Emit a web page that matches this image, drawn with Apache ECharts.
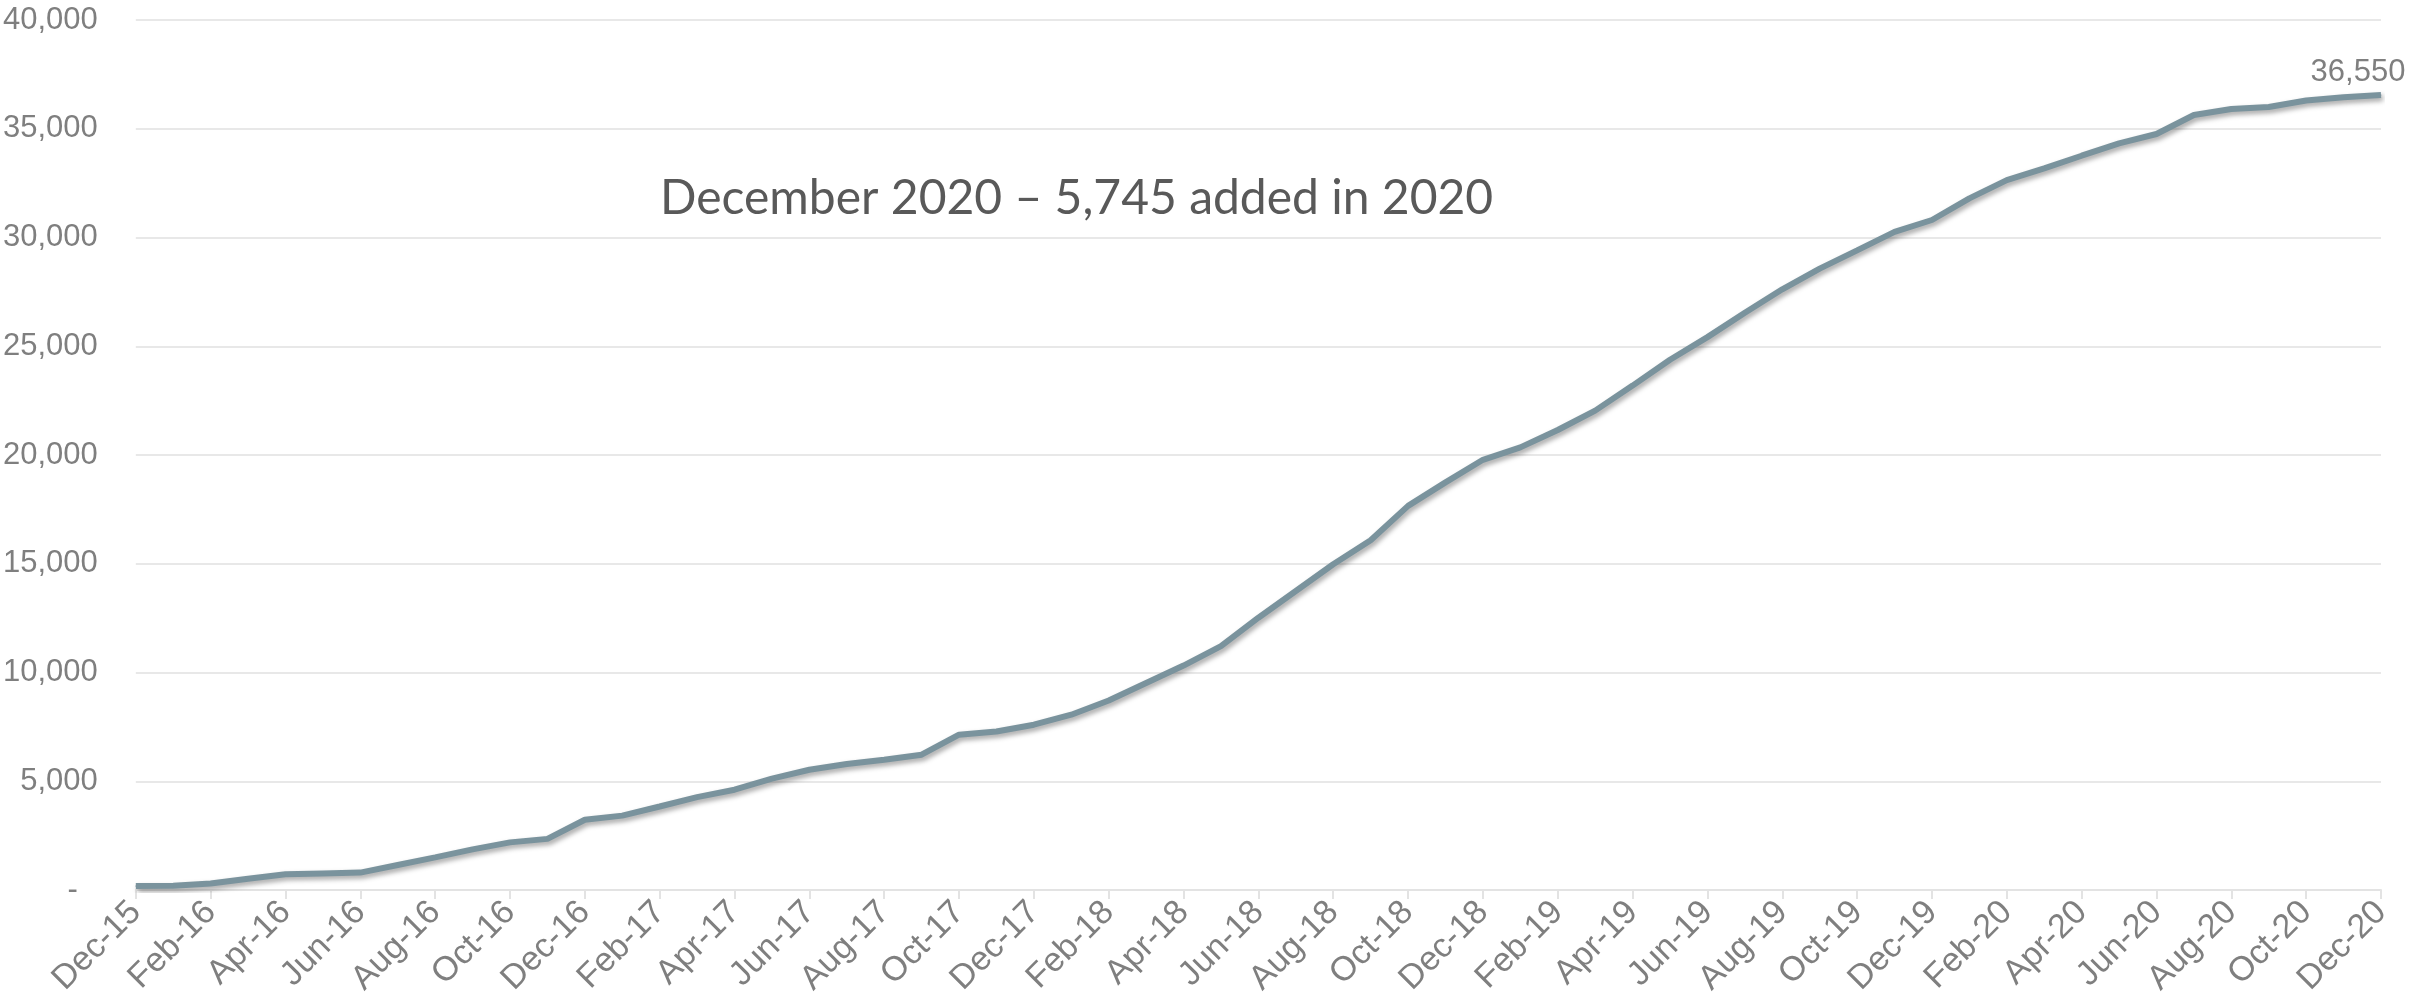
<!DOCTYPE html>
<html>
<head>
<meta charset="utf-8">
<script src="https://cdn.jsdelivr.net/npm/echarts@6/dist/echarts.min.js"></script>
<style>
  html, body { margin: 0; padding: 0; background: #ffffff; }
  #chart { width: 2409px; height: 1004px; }
</style>
</head>
<body>
<div id="chart"></div>
<script>
// Month-end categories, Dec 2015 to Dec 2020
const months = [
  'Dec-15','Jan-16','Feb-16','Mar-16','Apr-16','May-16','Jun-16','Jul-16','Aug-16','Sep-16','Oct-16','Nov-16',
  'Dec-16','Jan-17','Feb-17','Mar-17','Apr-17','May-17','Jun-17','Jul-17','Aug-17','Sep-17','Oct-17','Nov-17',
  'Dec-17','Jan-18','Feb-18','Mar-18','Apr-18','May-18','Jun-18','Jul-18','Aug-18','Sep-18','Oct-18','Nov-18',
  'Dec-18','Jan-19','Feb-19','Mar-19','Apr-19','May-19','Jun-19','Jul-19','Aug-19','Sep-19','Oct-19','Nov-19',
  'Dec-19','Jan-20','Feb-20','Mar-20','Apr-20','May-20','Jun-20','Jul-20','Aug-20','Sep-20','Oct-20','Nov-20',
  'Dec-20'
];

// Cumulative total at each month end
const cumulative = [
  180, 200, 300, 520, 720, 760, 800, 1150, 1500, 1870, 2190, 2350,
  3230, 3420, 3840, 4270, 4610, 5120, 5530, 5790, 5990, 6220, 7140, 7290,
  7600, 8060, 8710, 9520, 10320, 11210, 12520, 13750, 14980, 16080, 17660, 18740,
  19780, 20350, 21150, 22040, 23190, 24380, 25420, 26540, 27620, 28570, 29410, 30260,
  30805, 31800, 32640, 33180, 33760, 34330, 34760, 35630, 35910, 36000, 36300, 36450,
  36550
];

// Value axis ticks
const yTicks = [0, 5000, 10000, 15000, 20000, 25000, 30000, 35000, 40000];

const headline = 'December 2020 \u2013 5,745 added in 2020';

const fmt = v => v.toLocaleString('en-US');
const labelGrey = '#7f7f7f';
const lineColor = '#7a939d';

const seriesData = cumulative.map((v, i) => {
  if (i !== cumulative.length - 1) return v;
  return {
    value: v,
    label: {
      show: true,
      position: 'top',
      distance: 7,
      offset: [-23, 0],
      formatter: p => fmt(p.value),
      fontFamily: 'Liberation Sans, Arial, sans-serif',
      fontSize: 31,
      color: labelGrey
    }
  };
});

const chart = echarts.init(document.getElementById('chart'), null, { renderer: 'canvas' });

chart.setOption({
  animation: false,
  backgroundColor: '#ffffff',
  grid: { left: 131, right: 28, top: 20, bottom: 114 },
  xAxis: {
    type: 'category',
    data: months,
    boundaryGap: false,
    axisLine: { show: true, lineStyle: { color: '#e3e3e3', width: 2 } },
    axisTick: { show: true, interval: 1, length: 9, lineStyle: { color: '#e3e3e3', width: 2 } },
    axisLabel: {
      interval: 1,
      rotate: 45,
      margin: 17,
      fontFamily: 'Liberation Sans, Arial, sans-serif',
      fontSize: 34,
      color: labelGrey
    },
    splitLine: { show: false }
  },
  yAxis: {
    type: 'value',
    min: yTicks[0],
    max: yTicks[yTicks.length - 1],
    interval: yTicks[1] - yTicks[0],
    axisLine: { show: false },
    axisTick: { show: false },
    axisLabel: {
      margin: 38,
      fontFamily: 'Liberation Sans, Arial, sans-serif',
      fontSize: 31,
      color: labelGrey,
      formatter: v => (v === 0 ? '{dash|-}' : fmt(v)),
      rich: {
        dash: {
          fontFamily: 'Liberation Sans, Arial, sans-serif',
          fontSize: 31,
          color: labelGrey,
          padding: [0, 20, 0, 0]
        }
      }
    },
    splitLine: { show: true, lineStyle: { color: '#e8e8e8', width: 2 } }
  },
  series: [{
    type: 'line',
    data: seriesData,
    symbol: 'circle',
    symbolSize: 1,
    showSymbol: true,
    showAllSymbol: true,
    itemStyle: { color: lineColor },
    lineStyle: {
      color: lineColor,
      width: 6,
      shadowColor: 'rgba(0,0,0,0.35)',
      shadowBlur: 5,
      shadowOffsetX: 2,
      shadowOffsetY: 3
    },
    z: 3
  }],
  graphic: [{
    type: 'text',
    left: 660,
    top: 175,
    style: {
      text: headline,
      fontFamily: 'Lato, Carlito, Calibri, sans-serif',
      fontSize: 48,
      fill: '#595959'
    }
  }]
});
</script>
</body>
</html>
